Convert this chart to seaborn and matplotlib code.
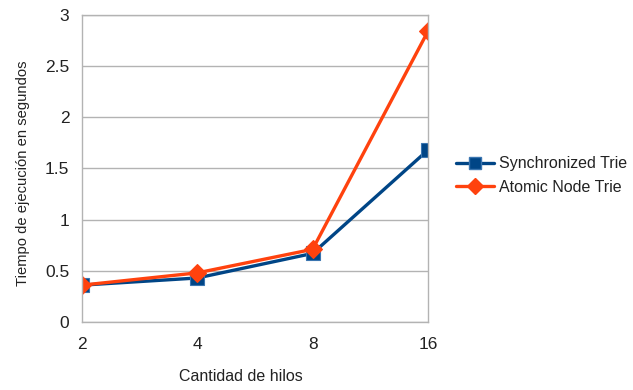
import matplotlib
matplotlib.use("Agg")
import matplotlib.pyplot as plt
import seaborn as sns
import pandas as pd

# Thread counts and measured runtimes (seconds)
hilos = ["2", "4", "8", "16"]
synchronized_trie = [0.36, 0.43, 0.67, 1.68]
atomic_node_trie = [0.36, 0.48, 0.71, 2.84]
series_names = ["Synchronized Trie", "Atomic Node Trie"]
y_ticks = [0, 0.5, 1, 1.5, 2, 2.5, 3]

df = pd.DataFrame({
    "hilos": hilos * 2,
    "tiempo": synchronized_trie + atomic_node_trie,
    "serie": [series_names[0]] * len(hilos) + [series_names[1]] * len(hilos),
})

sns.set_style("white")
plt.rcParams["font.family"] = ["Liberation Sans", "DejaVu Sans"]

grid_col = "#b3b3b3"
text_col = "#222222"
palette = {series_names[0]: "#004586", series_names[1]: "#ff420e"}

fig = plt.figure(figsize=(6.33, 3.9), dpi=100)
ax = fig.add_axes([0.1295, 0.1744, 0.5465, 0.7871])

sns.lineplot(
    data=df, x="hilos", y="tiempo", hue="serie", style="serie",
    palette=palette, markers={series_names[0]: "s", series_names[1]: "D"},
    dashes=False, linewidth=2.4, markersize=9, markeredgewidth=0.8,
    ax=ax, legend=False, sort=False,
)
for line, mec in zip(ax.lines, ["#3a75b0", "#ff420e"]):
    line.set_markeredgecolor(mec)
ax.lines[0].set_markersize(10)

ax.set_xlim(0, 3)
ax.set_ylim(0, 3)
ax.set_yticks(y_ticks)
ax.set_yticklabels(["0", "0.5", "1", "1.5", "2", "2.5", "3"])
ax.yaxis.grid(True, color=grid_col, linewidth=1.0)
ax.set_axisbelow(True)
for s in ax.spines.values():
    s.set_color(grid_col)
    s.set_linewidth(1.0)
ax.tick_params(axis="both", direction="out", length=5, width=1.0,
               color=grid_col, labelsize=12.5, labelcolor=text_col, pad=4)
ax.tick_params(axis="x", pad=6)

ax.set_xlabel("Cantidad de hilos", fontsize=11.5, color=text_col, labelpad=12)
ax.xaxis.label.set_x(0.46)
ax.set_ylabel("Tiempo de ejecución en segundos", fontsize=10.6, color=text_col, labelpad=11)
ax.yaxis.label.set_y(0.484)

handles = [
    plt.Line2D([], [], color="#004586", marker="s", markersize=9, linewidth=2.4,
               markeredgecolor="#3a75b0"),
    plt.Line2D([], [], color="#ff420e", marker="D", markersize=8, linewidth=2.4),
]
fig.legend(handles, series_names, loc="center left", bbox_to_anchor=(0.697, 0.55),
           frameon=False, fontsize=11.5, handlelength=2.4, handletextpad=0.3,
           labelspacing=0.55, labelcolor=text_col)

fig.savefig("out.png", dpi=100)
